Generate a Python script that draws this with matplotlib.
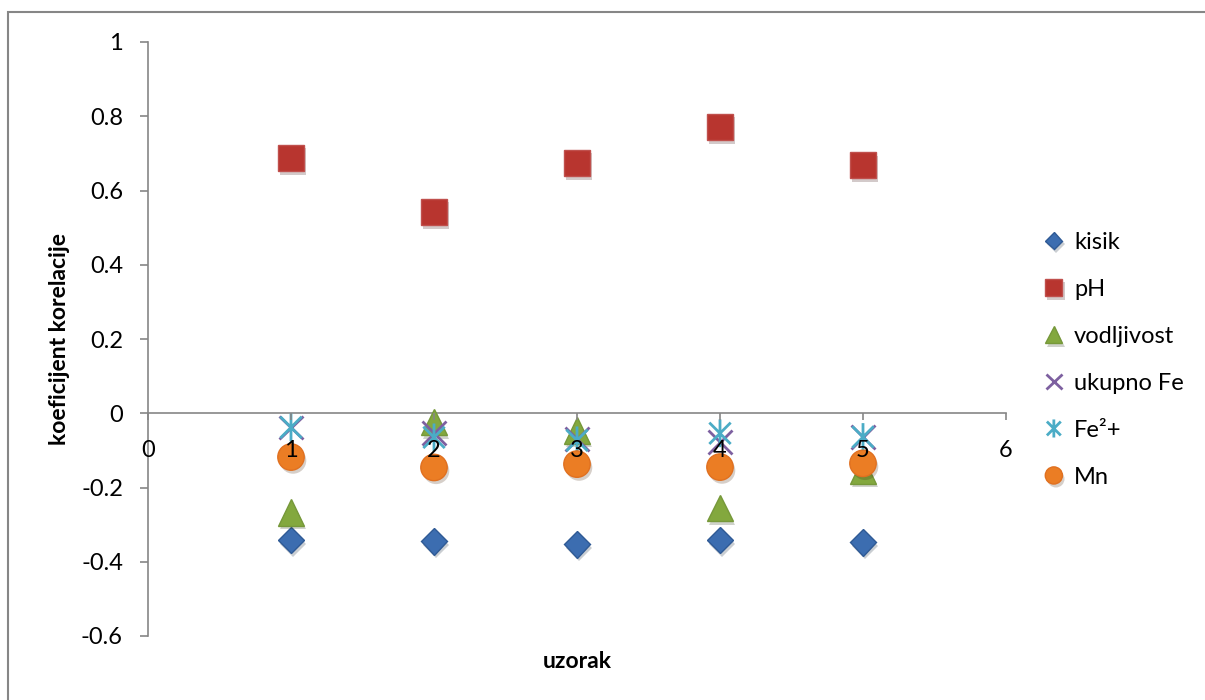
import matplotlib.pyplot as plt
import matplotlib.patheffects as pe
from matplotlib.path import Path
from matplotlib.patches import Rectangle

plt.rcParams['font.family'] = ['Lato', 'DejaVu Sans']

uzorak = [1, 2, 3, 4, 5]
kisik = [-0.342, -0.345, -0.353, -0.342, -0.348]
ph = [0.687, 0.542, 0.674, 0.771, 0.668]
vodljivost = [-0.267, -0.024, -0.046, -0.256, -0.154]
ukupno_fe = [-0.038, -0.054, -0.070, -0.078, -0.064]
fe2 = [-0.038, -0.065, -0.073, -0.054, -0.064]
mn = [-0.118, -0.146, -0.137, -0.145, -0.135]

# Excel-style asterisk: an X plus a vertical stroke
asterisk = Path(
    [(-1, -1), (1, 1), (-1, 1), (1, -1), (0, -1.3), (0, 1.3)],
    [Path.MOVETO, Path.LINETO, Path.MOVETO, Path.LINETO, Path.MOVETO, Path.LINETO],
)

shadow = [pe.SimplePatchShadow(offset=(1.5, -2.5), alpha=0.22), pe.Normal()]

series = [
    ("kisik", kisik, dict(marker="D", ms=13.5, color="#3C6DB0", mec="#2F5A95")),
    ("pH", ph, dict(marker="s", ms=19, color="#B8352F", mec="#C0504D")),
    ("vodljivost", vodljivost, dict(marker="^", ms=19, color="#83A83E", mec="#76983A")),
    ("ukupno Fe", ukupno_fe, dict(marker="x", ms=17, color="#7D60A0", mew=2)),
    ("Fe\u00b2+", fe2, dict(marker=asterisk, ms=20, color="#4BACC6", mew=2)),
    ("Mn", mn, dict(marker="o", ms=19, color="#EB7D24", mec="#E07020")),
]

fig = plt.figure(figsize=(12.05, 7), dpi=100)
ax = fig.add_axes([148 / 1205, 1 - 636 / 700, (1006 - 148) / 1205, (636 - 42) / 700])

fig.patches.append(Rectangle((8 / 1205, -0.1), 1.2, 1 - 12 / 700 + 0.1,
                             transform=fig.transFigure, fill=False,
                             edgecolor="#868686", lw=1.5))

for label, values, style in series:
    ax.plot(uzorak, values, linestyle="none", label=label, zorder=2,
            path_effects=shadow, clip_on=False, **style)

ax.set_xlim(0, 6)
ax.set_ylim(-0.6, 1)
ax.set_xticks(range(0, 7))
ax.set_yticks([-0.6, -0.4, -0.2, 0, 0.2, 0.4, 0.6, 0.8, 1])
ax.set_yticklabels(["-0.6", "-0.4", "-0.2", "0", "0.2", "0.4", "0.6", "0.8", "1"])

# tick labels over the markers, axis lines under them (like Excel)
ax.xaxis.set_zorder(3)
ax.yaxis.set_zorder(3)
for side in ("top", "right"):
    ax.spines[side].set_visible(False)
ax.spines["bottom"].set_position(("data", 0))
for side in ("left", "bottom"):
    ax.spines[side].set_color("#868686")
    ax.spines[side].set_linewidth(1.2)
    ax.spines[side].set_zorder(1)

ax.tick_params(axis="y", direction="out", length=6, width=1.2, color="#868686",
               labelsize=17, pad=12)
ax.tick_params(axis="x", direction="out", length=5, width=1.2, color="#868686",
               labelsize=17, pad=14)

ax.set_xlabel("uzorak", fontsize=16.5, fontweight="bold")
ax.xaxis.set_label_coords(0.5, -0.025)
ax.set_ylabel("koeficijent korelacije", fontsize=16.5, fontweight="bold")
ax.yaxis.set_label_coords(-0.091, 0.5)

leg = ax.legend(loc="center left", bbox_to_anchor=(1.02, 0.465), frameon=False,
                fontsize=17, markerscale=0.65, handlelength=0.8,
                handletextpad=0.45, labelspacing=1.1)

fig.savefig("out.png", dpi=100, facecolor="white")
